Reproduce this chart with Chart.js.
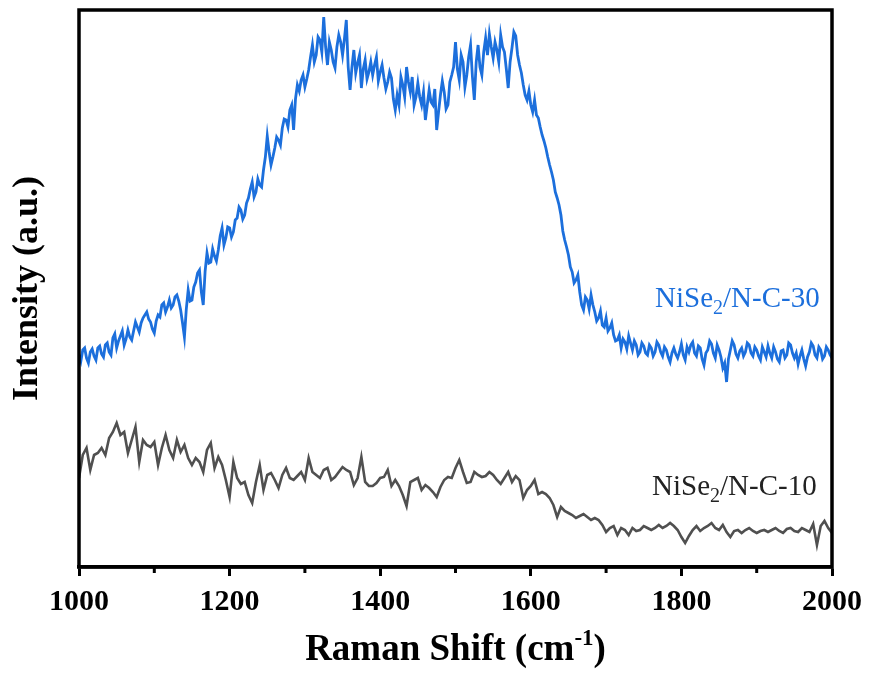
<!DOCTYPE html>
<html>
<head>
<meta charset="utf-8">
<script src="https://cdn.jsdelivr.net/npm/chart.js@4.4.1/dist/chart.umd.min.js"></script>
<style>
  html, body { margin: 0; padding: 0; background: #fff; }
  #wrap { width: 870px; height: 675px; }
</style>
</head>
<body>
<div id="wrap"><canvas id="c" width="870" height="675"></canvas></div>
<script>
// Raman shift grid for NiSe2/N-C-30 (cm^-1, 2.5 cm^-1 spacing)
const shiftsFine = [
  1000,1002.5,1005,1007.5,1010,1012.5,1015,1017.5,1020,1022.5,1025,1027.5,1030,1032.5,1035,1037.5,1040,1042.5,1045,1047.5,
  1050,1052.5,1055,1057.5,1060,1062.5,1065,1067.5,1070,1072.5,1075,1077.5,1080,1082.5,1085,1087.5,1090,1092.5,1095,1097.5,
  1100,1102.5,1105,1107.5,1110,1112.5,1115,1117.5,1120,1122.5,1125,1127.5,1130,1132.5,1135,1137.5,1140,1142.5,1145,1147.5,
  1150,1152.5,1155,1157.5,1160,1162.5,1165,1167.5,1170,1172.5,1175,1177.5,1180,1182.5,1185,1187.5,1190,1192.5,1195,1197.5,
  1200,1202.5,1205,1207.5,1210,1212.5,1215,1217.5,1220,1222.5,1225,1227.5,1230,1232.5,1235,1237.5,1240,1242.5,1245,1247.5,
  1250,1252.5,1255,1257.5,1260,1262.5,1265,1267.5,1270,1272.5,1275,1277.5,1280,1282.5,1285,1287.5,1290,1292.5,1295,1297.5,
  1300,1302.5,1305,1307.5,1310,1312.5,1315,1317.5,1320,1322.5,1325,1327.5,1330,1332.5,1335,1337.5,1340,1342.5,1345,1347.5,
  1350,1352.5,1355,1357.5,1360,1362.5,1365,1367.5,1370,1372.5,1375,1377.5,1380,1382.5,1385,1387.5,1390,1392.5,1395,1397.5,
  1400,1402.5,1405,1407.5,1410,1412.5,1415,1417.5,1420,1422.5,1425,1427.5,1430,1432.5,1435,1437.5,1440,1442.5,1445,1447.5,
  1450,1452.5,1455,1457.5,1460,1462.5,1465,1467.5,1470,1472.5,1475,1477.5,1480,1482.5,1485,1487.5,1490,1492.5,1495,1497.5,
  1500,1502.5,1505,1507.5,1510,1512.5,1515,1517.5,1520,1522.5,1525,1527.5,1530,1532.5,1535,1537.5,1540,1542.5,1545,1547.5,
  1550,1552.5,1555,1557.5,1560,1562.5,1565,1567.5,1570,1572.5,1575,1577.5,1580,1582.5,1585,1587.5,1590,1592.5,1595,1597.5,
  1600,1602.5,1605,1607.5,1610,1612.5,1615,1617.5,1620,1622.5,1625,1627.5,1630,1632.5,1635,1637.5,1640,1642.5,1645,1647.5,
  1650,1652.5,1655,1657.5,1660,1662.5,1665,1667.5,1670,1672.5,1675,1677.5,1680,1682.5,1685,1687.5,1690,1692.5,1695,1697.5,
  1700,1702.5,1705,1707.5,1710,1712.5,1715,1717.5,1720,1722.5,1725,1727.5,1730,1732.5,1735,1737.5,1740,1742.5,1745,1747.5,
  1750,1752.5,1755,1757.5,1760,1762.5,1765,1767.5,1770,1772.5,1775,1777.5,1780,1782.5,1785,1787.5,1790,1792.5,1795,1797.5,
  1800,1802.5,1805,1807.5,1810,1812.5,1815,1817.5,1820,1822.5,1825,1827.5,1830,1832.5,1835,1837.5,1840,1842.5,1845,1847.5,
  1850,1852.5,1855,1857.5,1860,1862.5,1865,1867.5,1870,1872.5,1875,1877.5,1880,1882.5,1885,1887.5,1890,1892.5,1895,1897.5,
  1900,1902.5,1905,1907.5,1910,1912.5,1915,1917.5,1920,1922.5,1925,1927.5,1930,1932.5,1935,1937.5,1940,1942.5,1945,1947.5,
  1950,1952.5,1955,1957.5,1960,1962.5,1965,1967.5,1970,1972.5,1975,1977.5,1980,1982.5,1985,1987.5,1990,1992.5,1995,1997.5,
  2000
];

// NiSe2/N-C-30 intensity (a.u., offset stack)
const nc30 = [
  212,206,217,219,209,204,215,218,211,207,219,221,213,210,222,224,215,212,229,233,
  219,226,231,236,222,228,237,230,227,236,245,240,235,244,249,252,255,248,245,238,
  234,246,252,250,262,264,255,260,267,259,262,270,272,266,257,244,230,258,277,266,
  267,280,285,294,297,275,262,296,314,304,305,318,311,306,317,331,339,322,329,340,
  339,330,335,347,349,360,357,348,352,364,369,378,385,370,375,388,382,380,397,410,
  431,415,402,410,419,430,427,422,439,448,447,440,457,462,437,468,482,476,487,492,
  480,488,497,510,522,505,512,530,527,515,550,520,502,525,517,505,499,520,532,525,
  512,528,547,500,477,500,517,494,504,512,479,498,507,488,495,505,492,502,510,486,
  495,502,489,478,485,495,489,468,457,472,462,490,482,470,500,485,475,490,462,470,
  484,470,462,475,447,462,477,465,462,478,437,455,472,486,475,458,462,485,492,500,
  525,498,487,512,505,480,492,510,522,490,467,505,522,500,492,515,529,512,533,520,
  509,525,517,505,532,520,515,498,479,505,519,535,531,512,502,494,482,472,467,476,
  462,455,467,452,449,440,432,426,419,410,402,395,387,375,369,362,352,336,327,320,
  312,300,295,284,287,292,275,262,257,270,267,258,272,262,255,246,249,256,242,240,
  249,236,239,244,232,226,227,232,219,228,225,218,231,224,217,226,222,212,215,224,
  221,214,212,222,219,211,215,225,222,215,211,220,217,210,205,214,219,213,209,215,
  223,212,207,220,215,222,225,214,211,221,219,208,202,214,217,226,223,214,209,222,
  217,210,199,204,185,208,217,226,222,213,209,216,219,211,215,224,222,214,211,220,
  217,211,207,220,215,210,221,214,209,220,215,208,205,216,217,209,212,224,222,214,
  209,214,203,211,217,208,201,210,215,224,221,212,209,220,217,208,211,220,217,212,
  209
];

// Raman shift grid for NiSe2/N-C-10 (cm^-1, 5 cm^-1 spacing)
const shifts = [
  1000,1005,1010,1015,1020,1025,1030,1035,1040,1045,1050,1055,1060,1065,1070,1075,1080,1085,1090,1095,
  1100,1105,1110,1115,1120,1125,1130,1135,1140,1145,1150,1155,1160,1165,1170,1175,1180,1185,1190,1195,
  1200,1205,1210,1215,1220,1225,1230,1235,1240,1245,1250,1255,1260,1265,1270,1275,1280,1285,1290,1295,
  1300,1305,1310,1315,1320,1325,1330,1335,1340,1345,1350,1355,1360,1365,1370,1375,1380,1385,1390,1395,
  1400,1405,1410,1415,1420,1425,1430,1435,1440,1445,1450,1455,1460,1465,1470,1475,1480,1485,1490,1495,
  1500,1505,1510,1515,1520,1525,1530,1535,1540,1545,1550,1555,1560,1565,1570,1575,1580,1585,1590,1595,
  1600,1605,1610,1615,1620,1625,1630,1635,1640,1645,1650,1655,1660,1665,1670,1675,1680,1685,1690,1695,
  1700,1705,1710,1715,1720,1725,1730,1735,1740,1745,1750,1755,1760,1765,1770,1775,1780,1785,1790,1795,
  1800,1805,1810,1815,1820,1825,1830,1835,1840,1845,1850,1855,1860,1865,1870,1875,1880,1885,1890,1895,
  1900,1905,1910,1915,1920,1925,1930,1935,1940,1945,1950,1955,1960,1965,1970,1975,1980,1985,1990,1995,
  2000
];

// NiSe2/N-C-10 intensity (a.u., offset stack)
const nc10 = [
  89,112,119,97,112,114,119,112,129,135,
  144,132,135,114,127,140,105,127,122,120,
  125,102,119,132,117,109,127,115,122,109,
  102,109,105,95,117,124,99,110,102,87,
  70,105,89,83,85,72,64,85,102,77,
  92,94,87,79,92,99,89,87,91,95,
  87,109,95,92,89,97,99,87,90,95,
  100,97,95,82,89,110,85,81,81,84,
  89,90,97,81,87,81,72,61,85,87,
  89,77,82,79,75,70,80,87,90,89,
  99,107,95,84,85,95,92,90,91,95,
  92,87,83,89,95,85,91,87,69,77,
  81,87,73,75,73,69,62,50,60,56,
  54,52,49,51,53,50,47,49,47,42,
  35,39,41,32,39,37,32,39,36,37,
  41,39,37,39,42,39,41,44,41,37,
  30,24,31,37,41,36,39,41,44,39,
  37,42,35,30,36,37,34,37,39,36,
  34,36,37,35,37,39,36,34,38,39,
  36,35,39,37,35,43,22,41,46,39,
  34
];

const majorTicks = [1000, 1200, 1400, 1600, 1800, 2000];
const minorTicks = [1100, 1300, 1500, 1700, 1900];

const seriesNames = [
  { parts: [['NiSe', false], ['2', true], ['/N-C-30', false]], color: '#1c6fdc', at: 1765, level: 260 },
  { parts: [['NiSe', false], ['2', true], ['/N-C-10', false]], color: '#222222', at: 1761, level: 72 }
];

const SERIF = "'Liberation Serif', 'Times New Roman', serif";

function toPoints(xs, ys) {
  return xs.map((s, i) => ({ x: s, y: ys[i] }));
}

// Frame, minor ticks, axis titles and in-plot series names
const decorations = {
  id: 'decorations',
  afterDraw(chart) {
    const { ctx, chartArea: a, scales: { x, y } } = chart;
    ctx.save();

    // closed box around the plot
    ctx.strokeStyle = '#000';
    ctx.lineWidth = 3.5;
    ctx.strokeRect(a.left, a.top, a.right - a.left, a.bottom - a.top);

    // minor ticks on the bottom axis
    ctx.lineWidth = 3;
    minorTicks.forEach(v => {
      const px = x.getPixelForValue(v);
      ctx.beginPath();
      ctx.moveTo(px, a.bottom);
      ctx.lineTo(px, a.bottom + 6);
      ctx.stroke();
    });

    // y-axis title
    ctx.fillStyle = '#000';
    ctx.font = 'bold 36px ' + SERIF;
    ctx.textAlign = 'center';
    ctx.textBaseline = 'middle';
    ctx.save();
    ctx.translate(28, (a.top + a.bottom) / 2);
    ctx.rotate(-Math.PI / 2);
    ctx.fillText('Intensity (a.u.)', 0, 0);
    ctx.restore();

    // x-axis title with superscript
    const base = 'bold 37px ' + SERIF;
    const sup = 'bold 23px ' + SERIF;
    ctx.textAlign = 'left';
    ctx.textBaseline = 'alphabetic';
    const p1 = 'Raman Shift (cm', p2 = '-1', p3 = ')';
    ctx.font = base; const w1 = ctx.measureText(p1).width, w3 = ctx.measureText(p3).width;
    ctx.font = sup; const w2 = ctx.measureText(p2).width;
    let tx = (a.left + a.right) / 2 - (w1 + w2 + w3) / 2;
    const ty = 660;
    ctx.font = base; ctx.fillText(p1, tx, ty); tx += w1;
    ctx.font = sup; ctx.fillText(p2, tx, ty - 15); tx += w2;
    ctx.font = base; ctx.fillText(p3, tx, ty);

    // series names with subscript
    seriesNames.forEach(n => {
      let sx = x.getPixelForValue(n.at);
      const sy = y.getPixelForValue(n.level);
      ctx.fillStyle = n.color;
      n.parts.forEach(([t, isSub]) => {
        ctx.font = (isSub ? '20px ' : '29px ') + SERIF;
        ctx.fillText(t, sx, isSub ? sy + 7 : sy);
        sx += ctx.measureText(t).width;
      });
    });

    ctx.restore();
  }
};

new Chart(document.getElementById('c'), {
  type: 'line',
  data: {
    datasets: [
      {
        label: 'NiSe2/N-C-30',
        data: toPoints(shiftsFine, nc30),
        borderColor: '#1c6fdc',
        borderWidth: 2.8,
        pointRadius: 0,
        tension: 0
      },
      {
        label: 'NiSe2/N-C-10',
        data: toPoints(shifts, nc10),
        borderColor: '#505050',
        borderWidth: 2.6,
        pointRadius: 0,
        tension: 0
      }
    ]
  },
  options: {
    responsive: false,
    devicePixelRatio: 1,
    animation: false,
    layout: { padding: { left: 79, right: 37, top: 10, bottom: 0 } },
    plugins: { legend: { display: false }, tooltip: { enabled: false } },
    scales: {
      x: {
        type: 'linear',
        min: 1000,
        max: 2000,
        afterBuildTicks: s => { s.ticks = majorTicks.map(v => ({ value: v })); },
        afterFit: s => { s.height = 108; },
        border: { display: true, color: '#000', width: 3.5 },
        grid: { drawOnChartArea: false, drawTicks: true, tickLength: 9, tickWidth: 3, tickColor: '#000' },
        ticks: {
          color: '#000',
          padding: 8,
          maxRotation: 0,
          callback: v => String(v),
          font: { family: SERIF, size: 30, weight: 'bold' }
        }
      },
      y: {
        display: false,
        min: 0,
        max: 557
      }
    }
  },
  plugins: [decorations]
});
</script>
</body>
</html>
